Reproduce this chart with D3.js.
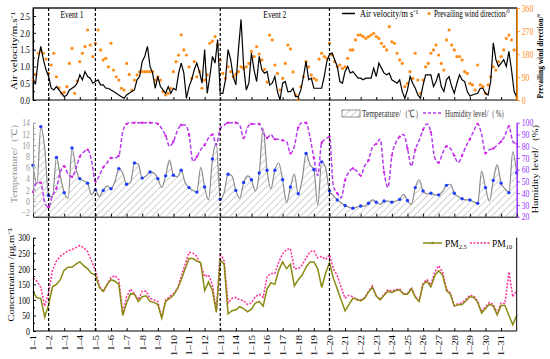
<!DOCTYPE html>
<html>
<head>
<meta charset="utf-8">
<script src="https://cdn.jsdelivr.net/npm/d3@7"></script>
<style>
body { margin: 0; background: #fff; }
svg { display: block; font-family: "Liberation Serif", "Times New Roman", serif; }
</style>
</head>
<body>
<div id="grafico"></div>
<script>
// Datos (enero)
const diasEtiquetas = d3.range(1, 32).map(d => "1\u2013" + d);
const diasEventos = [1, 4, 12, 19];          // 1-2, 1-5, 1-13, 1-20
const nombresEventos = ["Event 1", "Event 2"];

// velocidad del aire, cada 4 h (m/s)
const velocidad = [
0.6,0.5,1.2,1.6,1.2,0.9,0.7,0.35,0.3,0.4,
0.3,0.2,0.1,0.15,0.3,0.35,0.4,0.5,0.75,0.6,
0.85,0.7,0.65,0.5,0.55,0.6,0.45,0.45,0.35,0.35,
0.3,0.25,0.2,0.15,0.1,0.05,0.15,0.2,0.25,0.3,
0.6,0.7,1.15,1.3,1.6,1.0,0.8,0.35,0.7,0.4,
0.3,0.2,0.4,0.2,0.35,0.3,0.8,1.1,0.8,0.05,
0.4,0.6,0.9,1.1,0.85,
0.5,1.5,0.2,0.7,1.3,1.1,1.8,0.2,0.2,0.6,
1.5,1.2,0.7,0.45,1.5,2.4,1.0,0.3,0.5,1.4,
0.9,0.55,1.3,0.9,0.8,0.85,0.45,0.5,0.7,0.25,
0.0,0.5,0.55,0.25,0.25,0.35,0.1,0.1,0.3,0.7,
1.15,0.6,0.65,0.35,0.35,0.35,0.35,0.7,1.15,1.35,
1.4,1.2,1.0,0.55,0.5,0.85,1.0,0.8,0.85,0.75,
0.65,0.65,0.6,0.65,0.65,0.65,0.95,0.7,
1.1,0.95,0.8,0.75,0.8,0.6,0.55,0.5,0.6,0.25,
0.05,0.3,0.7,0.5,0.35,0.15,0.05,0.45,0.75,0.75,
0.75,0.4,0.55,0.8,0.4,0.25,0.6,0.7,0.4,0.2,
0.5,0.75,0.6,0.55,0.25,0.12,0.15,0.18,0.2,0.35,
0.35,0.2,0.15,0.55,1.7,1.2,1.0,1.1,1.2,1.0,
1.45,0.9,0.25,0.1
];

// direccion del viento, cada 4 h (grados)
const direccion = [
78,100,183,192,183,160,104,137,183,91,
48,26,30,52,143,202,26,75,150,183,
209,274,215,170,222,274,196,157,163,130,
222,117,91,78,46,39,143,100,39,78,
98,111,111,111,111,111,111,78,91,78,
33,20,26,46,111,150,176,255,196,176,
130,85,150,91,111,
46,78,98,222,230,248,215,157,104,85,
130,111,91,100,111,130,124,130,143,190,
170,209,180,157,120,70,254,235,137,104,
39,85,143,215,200,110,20,2,52,91,
150,130,98,85,78,160,183,170,163,222,
176,150,130,137,124,130,163,196,196,235,
254,254,248,241,248,254,261,248,
241,222,209,196,287,228,222,183,157,143,
52,65,111,85,183,78,26,78,130,143,
183,196,215,176,143,117,235,274,215,196,
170,170,157,111,104,65,59,39,137,59,
52,26,59,91,130,117,150,170,196,241,
254,235,196,13
];

// temperatura, cada 6 h (C)
const temperatura = [
6.4,3.0,13.3,9.5,1.0,0.8,7.8,4.5,1.5,0.5,
9.5,5.8,4.0,3.6,3.2,1.1,2.0,0.8,1.9,2.7,
2.2,3.5,5.8,5.0,3.0,3.3,6.8,6.6,4.1,4.5,
5.2,5.0,4.0,2.4,4.5,7.3,4.6,4.3,5.5,3.3,
2.4,1.9,1.6,
6.0,2.5,0.2,7.5,10.3,0.3,1.5,4.8,4.5,1.9,
0.5,3.3,4.5,3.8,1.8,5.0,13.0,5.5,2.2,5.5,
6.8,3.8,-0.3,2.5,4.8,1.3,3.8,8.5,6.5,5.6,
-0.7,7.0,6.0,1.8,1.0,0.2,-0.3,-0.8,-1.1,-1.3,
-1.1,-0.9,-0.9,-0.4,0.2,-0.2,
-0.6,0.0,0.0,-0.2,0.0,0.3,1.2,0.1,-0.6,2.4,
3.8,1.8,1.3,1.4,1.1,1.1,1.7,2.8,3.0,1.4,
0.8,0.4,0.2,0.2,-0.2,-0.4,5.3,2.4,0.0,3.7,
6.5,3.2,2.2,1.5,8.8,5.0
];

// humedad, cada 6 h (%)
const humedad = [
41,49,49,32,28,38,44,58,63,56,
54,61,71,75,77,68,50,55,62,66,
70,70,72,92,99,100,100,100,100,100,
100,100,99,95,89,80,84,93,98,98,
90,67,71,
77,81,87,90,81,95,98,100,100,100,
98,87,96,99,99,99,92,87,90,86,
86,85,84,74,80,96,100,100,88,70,
55,83,86,88,46,40,36,51,58,61,
59,55,63,68,79,82,
86,58,45,72,83,88,90,78,63,77,
85,94,99,92,70,66,74,80,78,72,
66,72,80,86,93,99,90,74,77,78,
81,84,89,97,84,82
];

// PM2.5 y PM10, cada 6 h (ug/m3)
const pm25 = [
126,107,105,45,84,142,150,165,196,205,
205,215,223,210,200,185,180,140,128,150,
165,160,150,50,90,120,118,95,110,113,
95,92,85,42,95,105,115,135,165,200,
233,233,225,
220,130,158,130,60,228,215,55,65,68,
78,72,62,70,90,95,80,135,155,150,
195,222,200,215,145,165,180,205,222,222,
200,140,185,220,170,135,100,65,85,105,
103,97,105,125,140,112,
100,115,128,124,130,132,118,118,136,108,
95,150,160,142,178,194,180,130,118,80,
84,85,97,110,108,92,58,72,86,80,
52,82,82,50,20,50
];
const pm10 = [
170,160,140,80,125,195,225,240,250,258,
262,268,275,268,255,225,195,145,125,150,
172,178,165,60,110,135,120,100,128,128,
105,100,95,42,100,110,120,135,175,215,
253,250,240,
212,175,180,150,65,250,225,90,105,108,
100,98,85,90,110,118,108,175,185,185,
222,248,262,265,200,200,212,235,255,258,
235,240,230,245,200,178,140,105,115,110,
100,100,107,128,145,112,
102,118,132,128,133,135,120,120,140,110,
98,155,165,148,190,210,190,135,122,82,
88,90,102,115,112,96,62,78,92,85,
58,90,88,190,110,130
];

const width = 550;
const height = 359;
const xIni = 33;
const xFin = 516.7;
const apriete = 0.78;   // el original esta comprimido en horizontal

const colNaranja = "#ff8c1a";
const colMorado = "#9933ff";
const colHumedad = "#b43cf0";
const colGris = "#999999";

const svg = d3.select("#grafico")
  .append("svg")
  .attr("width", width)
  .attr("height", height);

const xScale = d3.scaleLinear().domain([0, 31]).range([xIni, xFin]);

// escalas verticales de cada panel
const yVel = d3.scaleLinear().domain([0, 2.74]).range([100, 8]);
const yDir = d3.scaleLinear().domain([0, 360]).range([100, 8]);
const yTemp = d3.scaleLinear().domain([-2.8, 14]).range([216.7, 122.7]);
const yHum = d3.scaleLinear().domain([20, 100]).range([216.7, 122.7]);
const yPM = d3.scaleLinear().domain([0, 300]).range([331, 237.7]);

const cada4h = i => i / 6;
const cada6h = i => i / 4;

// aprieta un texto horizontal con una escala en x (al ancho dado o por el factor)
function apretar(sel, ancho) {
  sel.each(function () {
    const t = d3.select(this);
    const largo = this.getComputedTextLength();
    const f = ancho ? ancho / largo : apriete;
    const x = +t.attr("x") || 0;
    const y = +t.attr("y") || 0;
    t.attr("x", 0).attr("y", 0)
      .attr("transform", `translate(${x},${y}) scale(${f},1)`);
  });
}

function pintarEje(g, color) {
  g.attr("font-family", null).attr("font-size", null);
  g.selectAll("path, line").attr("stroke", color);
  g.selectAll("text").attr("fill", color).style("font-size", "10px");
}

function menores(eje, escala, valores, lado) {
  eje.selectAll("line.menor")
    .data(valores)
    .enter()
    .append("line")
    .attr("class", "menor")
    .attr("x1", 0).attr("x2", lado)
    .attr("y1", d => escala(d)).attr("y2", d => escala(d))
    .attr("stroke", eje.select(".domain").attr("stroke"));
}

// hatch del area de temperatura
const defs = svg.append("defs");
defs.append("pattern")
  .attr("id", "rayado")
  .attr("patternUnits", "userSpaceOnUse")
  .attr("width", 5).attr("height", 5)
  .attr("patternTransform", "rotate(45)")
  .append("line")
  .attr("x1", 0).attr("y1", 0).attr("x2", 0).attr("y2", 5)
  .attr("stroke", "#777").attr("stroke-width", 0.7);

// ---------- Panel superior ----------
svg.append("rect")
  .attr("x", xIni).attr("y", 8)
  .attr("width", xFin - xIni).attr("height", 92)
  .attr("fill", "none").attr("stroke", "#000").attr("stroke-width", 1);
svg.append("line")
  .attr("x1", xIni).attr("x2", xFin).attr("y1", 8).attr("y2", 8)
  .attr("stroke", "#555").attr("stroke-width", 2);

svg.selectAll("circle.dir")
  .data(direccion)
  .enter()
  .append("circle")
  .attr("class", "dir")
  .attr("cx", (d, i) => xScale(cada4h(i)))
  .attr("cy", d => yDir(d))
  .attr("r", 1.6)
  .attr("fill", colNaranja);

svg.append("path")
  .datum(velocidad)
  .attr("fill", "none")
  .attr("stroke", "#000")
  .attr("stroke-width", 1.2)
  .attr("d", d3.line().x((d, i) => xScale(cada4h(i))).y(d => yVel(d)));

const ejeVel = svg.append("g")
  .attr("transform", `translate(${xIni},0)`)
  .call(d3.axisLeft(yVel).tickValues([0, 0.5, 1, 1.5, 2, 2.5]).tickFormat(d3.format(".1f"))
    .tickSizeInner(-3).tickPadding(3).tickSizeOuter(0));
pintarEje(ejeVel, "#000");
menores(ejeVel, yVel, [0.25, 0.75, 1.25, 1.75, 2.25], 2);

const ejeDir = svg.append("g")
  .attr("transform", `translate(${xFin},0)`)
  .call(d3.axisRight(yDir).tickValues([0, 90, 180, 270, 360]).tickSize(3).tickPadding(2).tickSizeOuter(0));
pintarEje(ejeDir, colNaranja);
ejeDir.select(".domain").attr("stroke-width", 1.5);

svg.append("g")
  .attr("transform", "translate(0,100)")
  .call(d3.axisBottom(xScale).tickValues(d3.range(1, 31)).tickSize(-3).tickFormat(""))
  .call(g => g.select(".domain").remove());

// ---------- Panel central ----------
svg.append("path")
  .datum(temperatura)
  .attr("fill", "url(#rayado)")
  .attr("d", d3.area().curve(d3.curveMonotoneX)
    .x((d, i) => xScale(cada6h(i))).y0(216.7).y1(d => yTemp(d)));

svg.append("path")
  .datum(temperatura)
  .attr("fill", "none")
  .attr("stroke", "#8c8c8c")
  .attr("stroke-width", 1.2)
  .attr("d", d3.line().curve(d3.curveMonotoneX).x((d, i) => xScale(cada6h(i))).y(d => yTemp(d)));

svg.selectAll("circle.temp")
  .data(temperatura.map((d, i) => [i, d]).filter(p => p[0] % 2 === 0))
  .enter()
  .append("circle")
  .attr("class", "temp")
  .attr("cx", p => xScale(cada6h(p[0])))
  .attr("cy", p => yTemp(p[1]))
  .attr("r", 1.7)
  .attr("fill", "#1f3cff");

svg.append("path")
  .datum(humedad)
  .attr("fill", "none")
  .attr("stroke", colHumedad)
  .attr("stroke-width", 1.5)
  .attr("stroke-dasharray", "4,2")
  .attr("d", d3.line().curve(d3.curveMonotoneX).x((d, i) => xScale(cada6h(i))).y(d => yHum(d)));

svg.selectAll("circle.hum")
  .data(humedad.map((d, i) => [i, d]).filter(p => p[0] % 2 === 0))
  .enter()
  .append("circle")
  .attr("class", "hum")
  .attr("cx", p => xScale(cada6h(p[0])))
  .attr("cy", p => yHum(p[1]))
  .attr("r", 1.2)
  .attr("fill", "#e01ee0");

const ejeTemp = svg.append("g")
  .attr("transform", `translate(${xIni},0)`)
  .call(d3.axisLeft(yTemp).tickValues(d3.range(-2, 15, 2)).tickSizeInner(-3).tickPadding(3).tickSizeOuter(0));
pintarEje(ejeTemp, colGris);
menores(ejeTemp, yTemp, d3.range(-1, 14, 2), 2);

const ejeHum = svg.append("g")
  .attr("transform", `translate(${xFin},0)`)
  .call(d3.axisRight(yHum).tickValues(d3.range(20, 101, 10)).tickSize(3).tickPadding(2).tickSizeOuter(0));
pintarEje(ejeHum, colMorado);
ejeHum.select(".domain").attr("stroke-width", 1.5);

svg.append("g")
  .attr("transform", "translate(0,216.7)")
  .call(d3.axisBottom(xScale).tickValues(d3.range(0, 32)).tickSize(-3).tickFormat("").tickSizeOuter(0))
  .call(g => g.selectAll("path, line").attr("stroke", "#000"));

// ---------- Panel inferior ----------
const lineaPM = d3.line().x((d, i) => xScale(cada6h(i))).y(d => yPM(d));

svg.append("path")
  .datum(pm10)
  .attr("fill", "none")
  .attr("stroke", "#ff2d96")
  .attr("stroke-width", 1.5)
  .attr("stroke-dasharray", "2,1.5")
  .attr("d", lineaPM);

svg.append("path")
  .datum(pm25)
  .attr("fill", "none")
  .attr("stroke", "#8a8a12")
  .attr("stroke-width", 1.5)
  .attr("d", lineaPM);

const ejePM = svg.append("g")
  .attr("transform", `translate(${xIni},0)`)
  .call(d3.axisLeft(yPM).tickValues(d3.range(0, 301, 50)).tickSizeInner(-3).tickPadding(3).tickSizeOuter(0));
pintarEje(ejePM, "#000");
menores(ejePM, yPM, d3.range(25, 300, 50), 2);

svg.append("line")
  .attr("x1", xFin).attr("x2", xFin)
  .attr("y1", yPM(300)).attr("y2", yPM(0))
  .attr("stroke", "#000");

const ejeX = svg.append("g")
  .attr("transform", "translate(0,331)")
  .call(d3.axisBottom(xScale).tickValues(d3.range(0, 31)).tickSizeInner(-3).tickPadding(4).tickSizeOuter(0)
    .tickFormat(i => diasEtiquetas[i]));
pintarEje(ejeX, "#000");
ejeX.select(".domain").attr("d", `M${xIni},0H${xFin}`);
ejeX.selectAll("text")
  .attr("transform", `rotate(-90) scale(1,${apriete})`)
  .attr("text-anchor", "end")
  .attr("x", -4)
  .attr("y", 0)
  .attr("dy", "0.35em")
  .style("font-size", "10.5px");

// ---------- Lineas de eventos ----------
svg.selectAll("line.evento")
  .data(diasEventos)
  .enter()
  .append("line")
  .attr("class", "evento")
  .attr("x1", d => xScale(d)).attr("x2", d => xScale(d))
  .attr("y1", 8).attr("y2", 331)
  .attr("stroke", "#000")
  .attr("stroke-width", 1.2)
  .attr("stroke-dasharray", "3,2");

svg.selectAll("text.evento")
  .data(nombresEventos)
  .enter()
  .append("text")
  .attr("class", "evento")
  .attr("x", (d, i) => (xScale(diasEventos[2 * i]) + xScale(diasEventos[2 * i + 1])) / 2)
  .attr("y", 18)
  .attr("text-anchor", "middle")
  .style("font-size", "10px")
  .text(d => d)
  .call(apretar, 23);

// ---------- Titulos de ejes ----------
function tituloVertical(x, y, texto, tam, color, largo) {
  const f = largo || 1;
  return svg.append("text")
    .attr("transform", `translate(${x},${y}) rotate(-90) scale(${f},${apriete})`)
    .attr("text-anchor", "middle")
    .attr("dy", "0.35em")
    .attr("fill", color || "#000")
    .style("font-size", tam + "px")
    .text(texto);
}
tituloVertical(13.5, 51, "Air velocity/m.s\u207B\u00B9", 11);
tituloVertical(540, 56, "Prevailing wind direction/\u00B0", 10, "#000", 0.74).style("font-weight", "bold");
tituloVertical(14, 161, "Temperature/\uFF08\u2103\uFF09", 10.5, "#8a8a8a");
tituloVertical(535.5, 166, "Humidity level/\uFF08%\uFF09", 10.5);
tituloVertical(11, 275, "Concentration /\u03BCg.m\u207B\u00B3", 10.5);

// etiquetas de ejes horizontales, apretadas
[ejeVel, ejeDir, ejeTemp, ejeHum, ejePM].forEach(g => g.selectAll("text").call(apretar));

// ---------- Leyendas ----------
const leyenda = svg.append("g").style("font-size", "10px");

leyenda.append("line").attr("x1", 342).attr("x2", 355).attr("y1", 13.5).attr("y2", 13.5)
  .attr("stroke", "#000").attr("stroke-width", 1.5);
leyenda.append("text").attr("x", 360).attr("y", 17).text("Air velocity/m s\u207B\u00B9").call(apretar, 58);
leyenda.append("circle").attr("cx", 429).attr("cy", 13.5).attr("r", 1.6).attr("fill", colNaranja);
leyenda.append("text").attr("x", 434).attr("y", 17).text("Prevailing wind direction/\u00B0").call(apretar, 76);

leyenda.append("rect").attr("x", 342).attr("y", 110).attr("width", 18).attr("height", 7)
  .attr("fill", "url(#rayado)").attr("stroke", "#777").attr("stroke-width", 0.8);
leyenda.append("text").attr("x", 362).attr("y", 116.5).attr("fill", "#333")
  .text("Temperature/\uFF08\u2103\uFF09").call(apretar, 60);
leyenda.append("line").attr("x1", 423).attr("x2", 443).attr("y1", 113).attr("y2", 113)
  .attr("stroke", colHumedad).attr("stroke-width", 1.5).attr("stroke-dasharray", "3,2");
leyenda.append("text").attr("x", 445).attr("y", 116.5).attr("fill", "#333")
  .text("Humidity level/\uFF08%\uFF09").call(apretar, 63);

leyenda.append("line").attr("x1", 423).attr("x2", 442).attr("y1", 243).attr("y2", 243)
  .attr("stroke", "#8a8a12").attr("stroke-width", 1.5);
leyenda.append("circle").attr("cx", 432.5).attr("cy", 243).attr("r", 1.3).attr("fill", "#8a8a12");
const t25 = leyenda.append("text").attr("x", 445).attr("y", 246.5).style("font-size", "9.5px");
t25.append("tspan").text("PM");
t25.append("tspan").attr("dy", 2.5).style("font-size", "6.5px").text("2.5");
leyenda.append("line").attr("x1", 470).attr("x2", 490).attr("y1", 243).attr("y2", 243)
  .attr("stroke", "#ff2d96").attr("stroke-width", 1.5).attr("stroke-dasharray", "2,1.5");
const t10 = leyenda.append("text").attr("x", 492).attr("y", 246.5).style("font-size", "9.5px");
t10.append("tspan").text("PM");
t10.append("tspan").attr("dy", 2.5).style("font-size", "6.5px").text("10");
</script>
</body>
</html>
